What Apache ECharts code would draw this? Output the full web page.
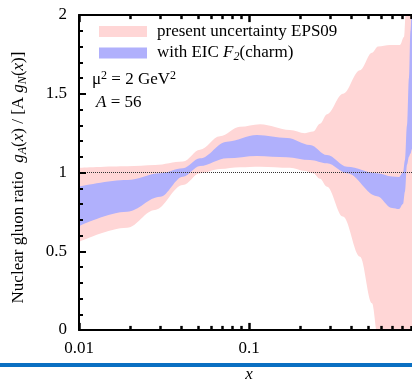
<!DOCTYPE html>
<html><head><meta charset="utf-8">
<script src="https://cdn.jsdelivr.net/npm/echarts@6/dist/echarts.min.js"></script>
<style>html,body{margin:0;padding:0;background:#fff}#c{width:412px;height:380px}</style>
</head><body><div id="c"></div>
<script>
// ---- data ----
const xPink     = [0.01, 0.0192, 0.028, 0.0409, 0.0515, 0.0675, 0.0885, 0.116, 0.174, 0.2135, 0.238, 0.2617, 0.2876, 0.357, 0.45, 0.529, 0.574, 0.675, 0.773, 0.816, 0.839, 0.909, 1.0];
const pinkLower = [0.56, 0.65, 0.762, 0.92, 0.995, 1.022, 1.033, 1.037, 1.03, 1.01, 0.995, 0.96, 0.91, 0.72, 0.465, 0.17, -0.05, -0.35, -0.3, -0.1, -0.1, -0.2, -0.2];
const pinkUpper = [1.03, 1.04, 1.048, 1.07, 1.145, 1.23, 1.29, 1.306, 1.27, 1.25, 1.26, 1.31, 1.37, 1.50, 1.65, 1.76, 1.80, 1.81, 1.81, 1.86, 2.05, 2.3, 2.6];

const xBlue     = [0.01, 0.0192, 0.030, 0.0409, 0.0515, 0.0742, 0.1115, 0.1674, 0.2285, 0.2876, 0.3773, 0.566, 0.694, 0.763, 0.805, 0.827, 0.850, 0.873, 0.891, 0.909, 1.0];
const blueLower = [0.66, 0.751, 0.846, 0.973, 1.041, 1.09, 1.105, 1.097, 1.079, 1.058, 0.995, 0.85, 0.775, 0.768, 0.80, 0.88, 1.05, 1.10, 1.12, 1.15, 1.3];
const blueUpper = [0.91, 0.952, 0.995, 1.027, 1.09, 1.196, 1.238, 1.219, 1.175, 1.111, 1.037, 0.995, 0.975, 0.972, 1.0, 1.08, 1.3, 1.6, 1.9, 2.1, 2.8];

const refX = [0.01, 1];
const refY = [1, 1];

const xMajorTicks = [0.01, 0.1, 1];
const xTickLabels = [0.01, 0.1];
const xMinorTicks = [0.02,0.03,0.04,0.05,0.06,0.07,0.08,0.09,0.2,0.3,0.4,0.5,0.6,0.7,0.8,0.9];

const legendNames = ['present uncertainty EPS09', 'with EIC F2(charm)'];

// ---- chart ----
const FONT = 'Liberation Serif';
const FS = 17;
const PINK = '#ffd6d6';
const BLUE = '#b0b0fc';
const Y_MIN = 0, Y_MAX = 2;
const pair = (xs, ys) => xs.map((x, i) => [x, ys[i]]);

const chart = echarts.init(document.getElementById('c'), null, {renderer: 'canvas'});

const subRich = {
  i: {fontFamily: FONT, fontSize: FS, fontStyle: 'italic', color: '#000', lineHeight: 20},
  s: {fontFamily: FONT, fontSize: 12, fontStyle: 'italic', color: '#000', lineHeight: 20, verticalAlign: 'bottom'},
  n: {fontFamily: FONT, fontSize: FS, color: '#000', lineHeight: 20}
};

// band drawn as layered fills: upper fill to axis, lower fill (mask) to axis
function area(name, xs, ys, color, z) {
  return {type: 'line', name, data: pair(xs, ys), symbol: 'none', smooth: 0.35, smoothMonotone: 'x',
    color, lineStyle: {width: 0, opacity: 0}, areaStyle: {color, opacity: 1, origin: 'start'},
    silent: true, z, clip: true};
}

// inward x-axis ticks on bottom and top frame (tick length in y-data units)
const tickLines = [];
xMajorTicks.map(v => [v, 0.045]).concat(xMinorTicks.map(v => [v, 0.026])).forEach(([v, d]) => {
  tickLines.push([{coord: [v, Y_MIN]}, {coord: [v, Y_MIN + d]}]);
  tickLines.push([{coord: [v, Y_MAX]}, {coord: [v, Y_MAX - d]}]);
});

const option = {
  animation: false,
  backgroundColor: '#fff',
  grid: {left: 79, top: 15, width: 340, height: 315, outerBoundsMode: 'none', containLabel: false},
  legend: {
    data: legendNames, orient: 'vertical', left: 99, top: 21.5, padding: 0,
    itemWidth: 48, itemHeight: 11, itemGap: 1.5, icon: 'rect',
    itemStyle: {borderWidth: 0},
    selectedMode: false,
    textStyle: {fontFamily: FONT, fontSize: FS, color: '#000', lineHeight: 20, padding: [0, 0, 0, 5], rich: subRich},
    formatter: name => name === legendNames[1] ? '{n|with EIC }{i|F}{s|2}{n|(charm)}' : name
  },
  xAxis: [
    {type: 'log', logBase: 10, min: 0.01, max: 1, position: 'bottom', z: 10,
     axisLine: {show: true, onZero: false, lineStyle: {color: '#000', width: 2}},
     axisTick: {show: false}, minorTick: {show: false}, splitLine: {show: false},
     axisLabel: {show: true, fontFamily: FONT, fontSize: FS, color: '#000', margin: 10,
       formatter: v => (xTickLabels.indexOf(+(+v).toPrecision(3)) >= 0 ? String(+(+v).toPrecision(3)) : '')},
     name: 'x', nameLocation: 'middle', nameGap: 36,
     nameTextStyle: {fontFamily: FONT, fontSize: FS, fontStyle: 'italic', color: '#000'}},
    {type: 'log', logBase: 10, min: 0.01, max: 1, position: 'top', z: 10,
     axisLine: {show: true, onZero: false, lineStyle: {color: '#000', width: 2}},
     axisTick: {show: false}, minorTick: {show: false}, splitLine: {show: false}, axisLabel: {show: false}}
  ],
  yAxis: {
    type: 'value', min: Y_MIN, max: Y_MAX, interval: 0.5, position: 'left', z: 10,
    axisLine: {show: true, onZero: false, lineStyle: {color: '#000', width: 2}},
    axisTick: {show: true, inside: true, length: 7, lineStyle: {color: '#000', width: 2}},
    minorTick: {show: true, splitNumber: 5, length: 4, lineStyle: {color: '#000', width: 2}},
    axisLabel: {fontFamily: FONT, fontSize: FS, color: '#000', margin: 12},
    splitLine: {show: false},
    name: 'Nuclear gluon ratio  {i|g}{s|A}({i|x}) / [A {i|g}{s|N}({i|x})]',
    nameLocation: 'middle', nameGap: 50, nameRotate: 90,
    nameTextStyle: {fontFamily: FONT, fontSize: FS, color: '#000', lineHeight: 20, padding: [0, 10, 0, 0], rich: subRich}
  },
  series: [
    area(legendNames[0], xPink, pinkUpper, PINK, 1),
    area(legendNames[1], xBlue, blueUpper, BLUE, 2),
    area('blueLowerMask', xBlue, blueLower, PINK, 3),
    area('pinkLowerMask', xPink, pinkLower, '#ffffff', 4),
    {type: 'line', name: 'ref', data: pair(refX, refY), symbol: 'none',
     lineStyle: {color: '#333', width: 1, type: [1, 1]}, silent: true, z: 5,
     markLine: {silent: true, symbol: ['none', 'none'], animation: false, z: 20,
       label: {show: false}, emphasis: {disabled: true},
       lineStyle: {color: '#000', width: 2.5, type: 'solid'},
       data: tickLines}}
  ],
  graphic: {elements: [
    {type: 'text', left: 92, top: 70, style: {text: 'μ{p|2} = 2 GeV{p|2}', font: FS + 'px "Liberation Serif"', fill: '#000',
      rich: {p: {fontFamily: FONT, fontSize: 12, verticalAlign: 'top', lineHeight: 20}}}},
    {type: 'text', left: 96, top: 94, style: {text: '{i|A} = 56', font: FS + 'px "Liberation Serif"', fill: '#000',
      rich: {i: {fontStyle: 'italic', fontFamily: FONT, fontSize: FS}}}},
    {type: 'rect', left: 0, top: 363, z: 100, shape: {width: 412, height: 4}, style: {fill: '#0a6fc2'}}
  ]}
};
chart.setOption(option);
</script>
</body></html>
